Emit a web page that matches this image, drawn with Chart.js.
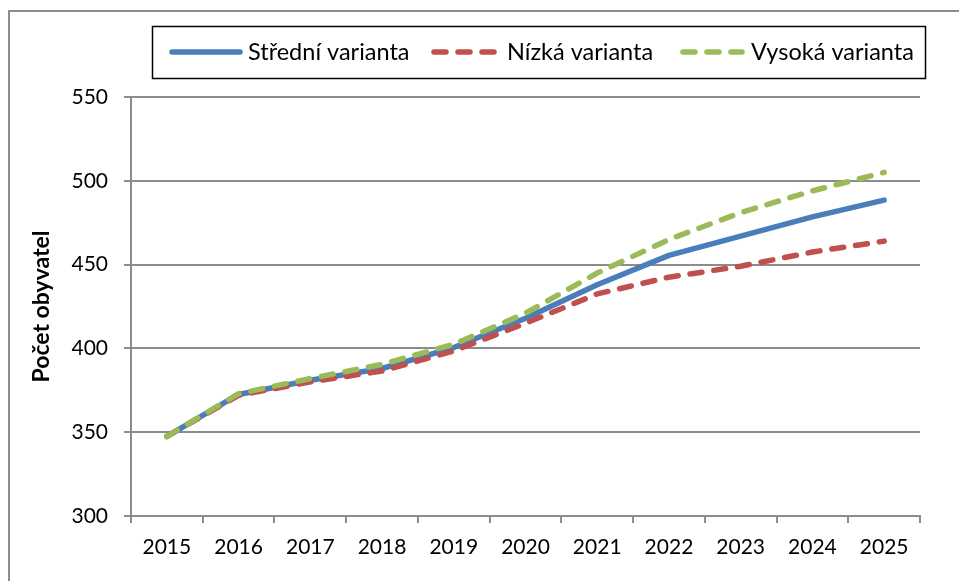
<!DOCTYPE html>
<html>
<head>
<meta charset="utf-8">
<script src="https://cdn.jsdelivr.net/npm/chart.js@4.4.0/dist/chart.umd.min.js"></script>
<style>
html,body{margin:0;padding:0;background:#fff;}
canvas{display:block;}
</style>
</head>
<body>
<canvas id="c" width="959" height="581"></canvas>
<script>
const years = ['2015','2016','2017','2018','2019','2020','2021','2022','2023','2024','2025'];
const stredni = [347.5, 372.5, 381, 388, 400.5, 418, 438, 455.5, 467, 478.5, 488.5];
const nizka   = [347.5, 372, 380, 386.5, 398.5, 415, 432.5, 442.5, 449, 457.5, 464];
const vysoka  = [347.5, 373, 382, 390.5, 402.5, 421, 445, 465, 481, 494, 505];
const seriesNames = ['Střední varianta', 'Nízká varianta', 'Vysoká varianta'];
const yTitle = 'Počet obyvatel';

const FONT = 'Lato, "Liberation Sans", sans-serif';
const colors = ['#4A7EBB', '#C0504D', '#9BBB59'];
const dashes = [[], [12, 12], [12, 12]];

const frame = {
  id: 'frame',
  beforeDraw(chart) {
    const ctx = chart.ctx;
    ctx.save();
    ctx.strokeStyle = '#8c8c8c';
    ctx.lineWidth = 2;
    ctx.beginPath();
    ctx.moveTo(9, 581);
    ctx.lineTo(9, 11);
    ctx.lineTo(959, 11);
    ctx.stroke();
    ctx.restore();
  },
  afterDraw(chart) {
    const ctx = chart.ctx;
    ctx.save();
    ctx.strokeStyle = '#000';
    ctx.lineWidth = 1.5;
    ctx.strokeRect(152.5, 26.5, 773, 52);
    const items = [
      {x1: 172, x2: 240, tx: 248},
      {x1: 434, x2: 497, tx: 507},
      {x1: 683, x2: 742, tx: 751}
    ];
    const y = 52;
    ctx.font = '23.5px ' + FONT;
    ctx.textBaseline = 'middle';
    items.forEach((it, i) => {
      ctx.strokeStyle = colors[i];
      ctx.lineWidth = 5.5;
      ctx.lineCap = 'round';
      ctx.setLineDash(dashes[i]);
      ctx.beginPath();
      ctx.moveTo(it.x1, y);
      ctx.lineTo(it.x2, y);
      ctx.stroke();
      ctx.setLineDash([]);
      ctx.fillStyle = '#000';
      ctx.fillText(seriesNames[i], it.tx, y);
    });
    ctx.restore();
  }
};

const mk = (label, data, i, order) => ({
  label, data,
  borderColor: colors[i],
  backgroundColor: colors[i],
  borderWidth: 5.5,
  borderDash: dashes[i],
  borderCapStyle: 'round',
  borderJoinStyle: 'round',
  pointRadius: 0,
  tension: 0,
  fill: false,
  order
});

new Chart(document.getElementById('c'), {
  type: 'line',
  data: {
    labels: years,
    datasets: [
      mk(seriesNames[0], stredni, 0, 3),
      mk(seriesNames[1], nizka, 1, 2),
      mk(seriesNames[2], vysoka, 2, 1)
    ]
  },
  options: {
    responsive: false,
    animation: false,
    layout: { padding: { top: 97, right: 39, left: 0, bottom: 0 } },
    plugins: { legend: { display: false }, tooltip: { enabled: false } },
    scales: {
      x: {
        offset: true,
        grid: { display: true, drawOnChartArea: false, offset: true, color: '#8c8c8c', lineWidth: 2, tickLength: 7 },
        border: { color: '#8c8c8c', width: 2 },
        ticks: { color: '#000', font: { family: FONT, size: 21 }, padding: 12, maxRotation: 0 },
        afterFit(s) { s.height = 65; }
      },
      y: {
        min: 300, max: 550,
        ticks: { stepSize: 50, color: '#000', font: { family: FONT, size: 21 }, padding: 16 },
        grid: { color: '#8c8c8c', lineWidth: 2, tickLength: 7 },
        border: { color: '#8c8c8c', width: 2 },
        title: { display: true, text: yTitle, color: '#000', font: { family: FONT, size: 23, weight: 'bold' }, padding: { top: 28, bottom: 0 } },
        afterFit(s) { s.width = 131; }
      }
    }
  },
  plugins: [frame]
});
</script>
</body>
</html>
